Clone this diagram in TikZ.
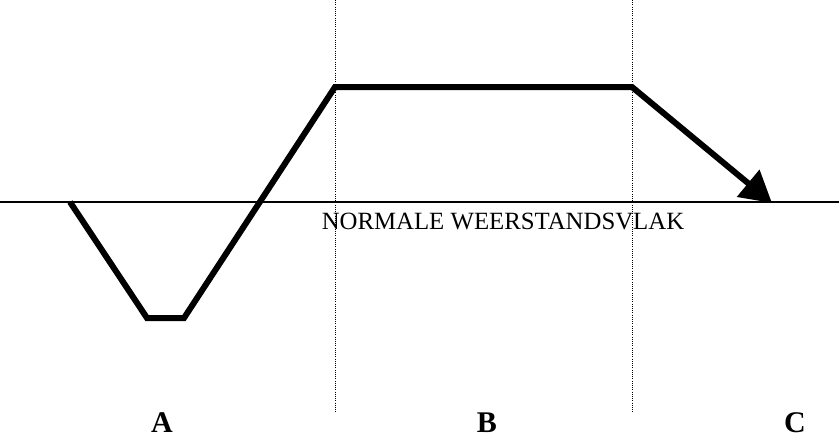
\documentclass[tikz,border=0pt]{standalone}
\usepackage{fontspec}
\setmainfont{Liberation Serif}
\usetikzlibrary{arrows.meta}
\begin{document}
\begin{tikzpicture}[x=1pt,y=-1pt,
  base/.style={line width=1.8pt},
  guide/.style={line width=1pt,dash pattern=on 1pt off 1.2pt},
  route/.style={line width=6pt,line join=miter},
  zone/.style={font=\fontsize{30}{32}\selectfont\bfseries,anchor=base},
  plane/.style={font=\fontsize{24.8}{26}\selectfont,anchor=base}]
\useasboundingbox (0,0) rectangle (839,437);
\coordinate (l0) at (0,202);
\coordinate (l1) at (839,202);
\draw[base] (l0) -- (l1);
\coordinate (g1t) at (335,0);
\coordinate (g1b) at (335,413);
\coordinate (g2t) at (632,0);
\coordinate (g2b) at (632,413);
\draw[guide] (g1t) -- (g1b);
\draw[guide] (g2t) -- (g2b);
\coordinate (p0) at (70,202);
\coordinate (p1) at (147,318);
\coordinate (p2) at (184,318);
\coordinate (p3) at (335,87);
\coordinate (p4) at (632,87);
\coordinate (p5) at (772,203);
\draw[route,-{Triangle[length=31pt,width=34pt]}] (p0) -- (p1) -- (p2) -- (p3) -- (p4) -- (p5);
\node[plane] (nw) at (503,229) {NORMALE WEERSTANDSVLAK};
\node[zone] (a) at (162,432) {A};
\node[zone] (b) at (487,432) {B};
\node[zone] (c) at (795,432) {C};
\end{tikzpicture}
\end{document}
